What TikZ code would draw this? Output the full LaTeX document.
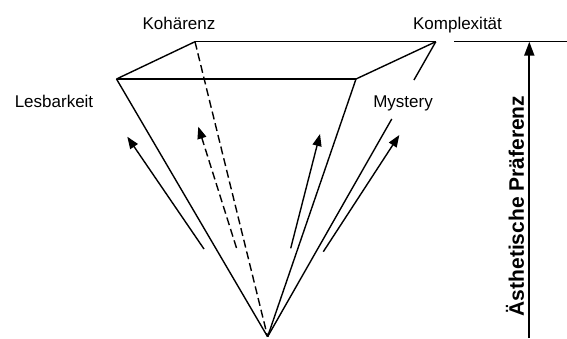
\documentclass[tikz,border=0pt]{standalone}
\usepackage{fontspec}
\setmainfont{Liberation Sans}
\usetikzlibrary{arrows.meta,calc}

\begin{document}
\begin{tikzpicture}
  [x=1pt,y=-1pt,line width=1.4pt,
   lbl/.style={font=\fontsize{17}{20}\selectfont,inner sep=0pt,anchor=base},
   pfeil/.style={-{Triangle[length=12pt,width=9pt]}}]
  \useasboundingbox (0,0) rectangle (567,338);

  % corners of the pyramid
  \coordinate (apex) at (267.6,336.7);
  \coordinate (les) at (116.5,79);
  \coordinate (koh) at (195,41.7);
  \coordinate (kom) at (435.8,41.7);
  \coordinate (mys) at (356,79);

  \node[lbl] (tkoh) at (179,29.3) {Kohärenz};
  \node[lbl] (tkom) at (457.5,29.3) {Komplexität};
  \node[lbl] (tles) at (54,107.3) {Lesbarkeit};
  \node[lbl] (tmys) at (403,107.3) {Mystery};

  \foreach \from/\to in {les/koh,koh/kom,kom/mys,mys/les,les/apex,mys/apex}
    \draw (\from) -- (\to);
  \draw[dash pattern=on 8pt off 4pt] (koh) -- (apex);
  \draw (kom) -- ($(kom)!0.13!(apex)$);
  \draw ($(kom)!0.262!(apex)$) -- (apex);

  % arrows
  \coordinate (a1) at (204,249);   \coordinate (b1) at (127.3,136.7);
  \coordinate (a2) at (236.5,248); \coordinate (b2) at (198.3,126.7);
  \coordinate (a3) at (290.7,248.3); \coordinate (b3) at (320,134);
  \coordinate (a4) at (323.3,251.7); \coordinate (b4) at (399.3,135);
  \draw[pfeil] (a1) -- (b1);
  \draw[pfeil,dash pattern=on 8pt off 4pt] (a2) -- (b2);
  \draw[pfeil] (a3) -- (b3);
  \draw[pfeil] (a4) -- (b4);

  % axis
  \coordinate (hl) at (454,41.7);
  \coordinate (hr) at (567,41.7);
  \coordinate (axbot) at (529.3,338);
  \coordinate (axtop) at (529.3,41.7);
  \draw (hl) -- (hr);
  \draw[line width=1.9pt,-{Triangle[length=14pt,width=10pt]}] (axbot) -- (axtop);
  \node[font=\bfseries\fontsize{21}{24}\selectfont,rotate=90,inner sep=0pt]
    (praef) at (515,206) {Ästhetische Präferenz};
\end{tikzpicture}
\end{document}
